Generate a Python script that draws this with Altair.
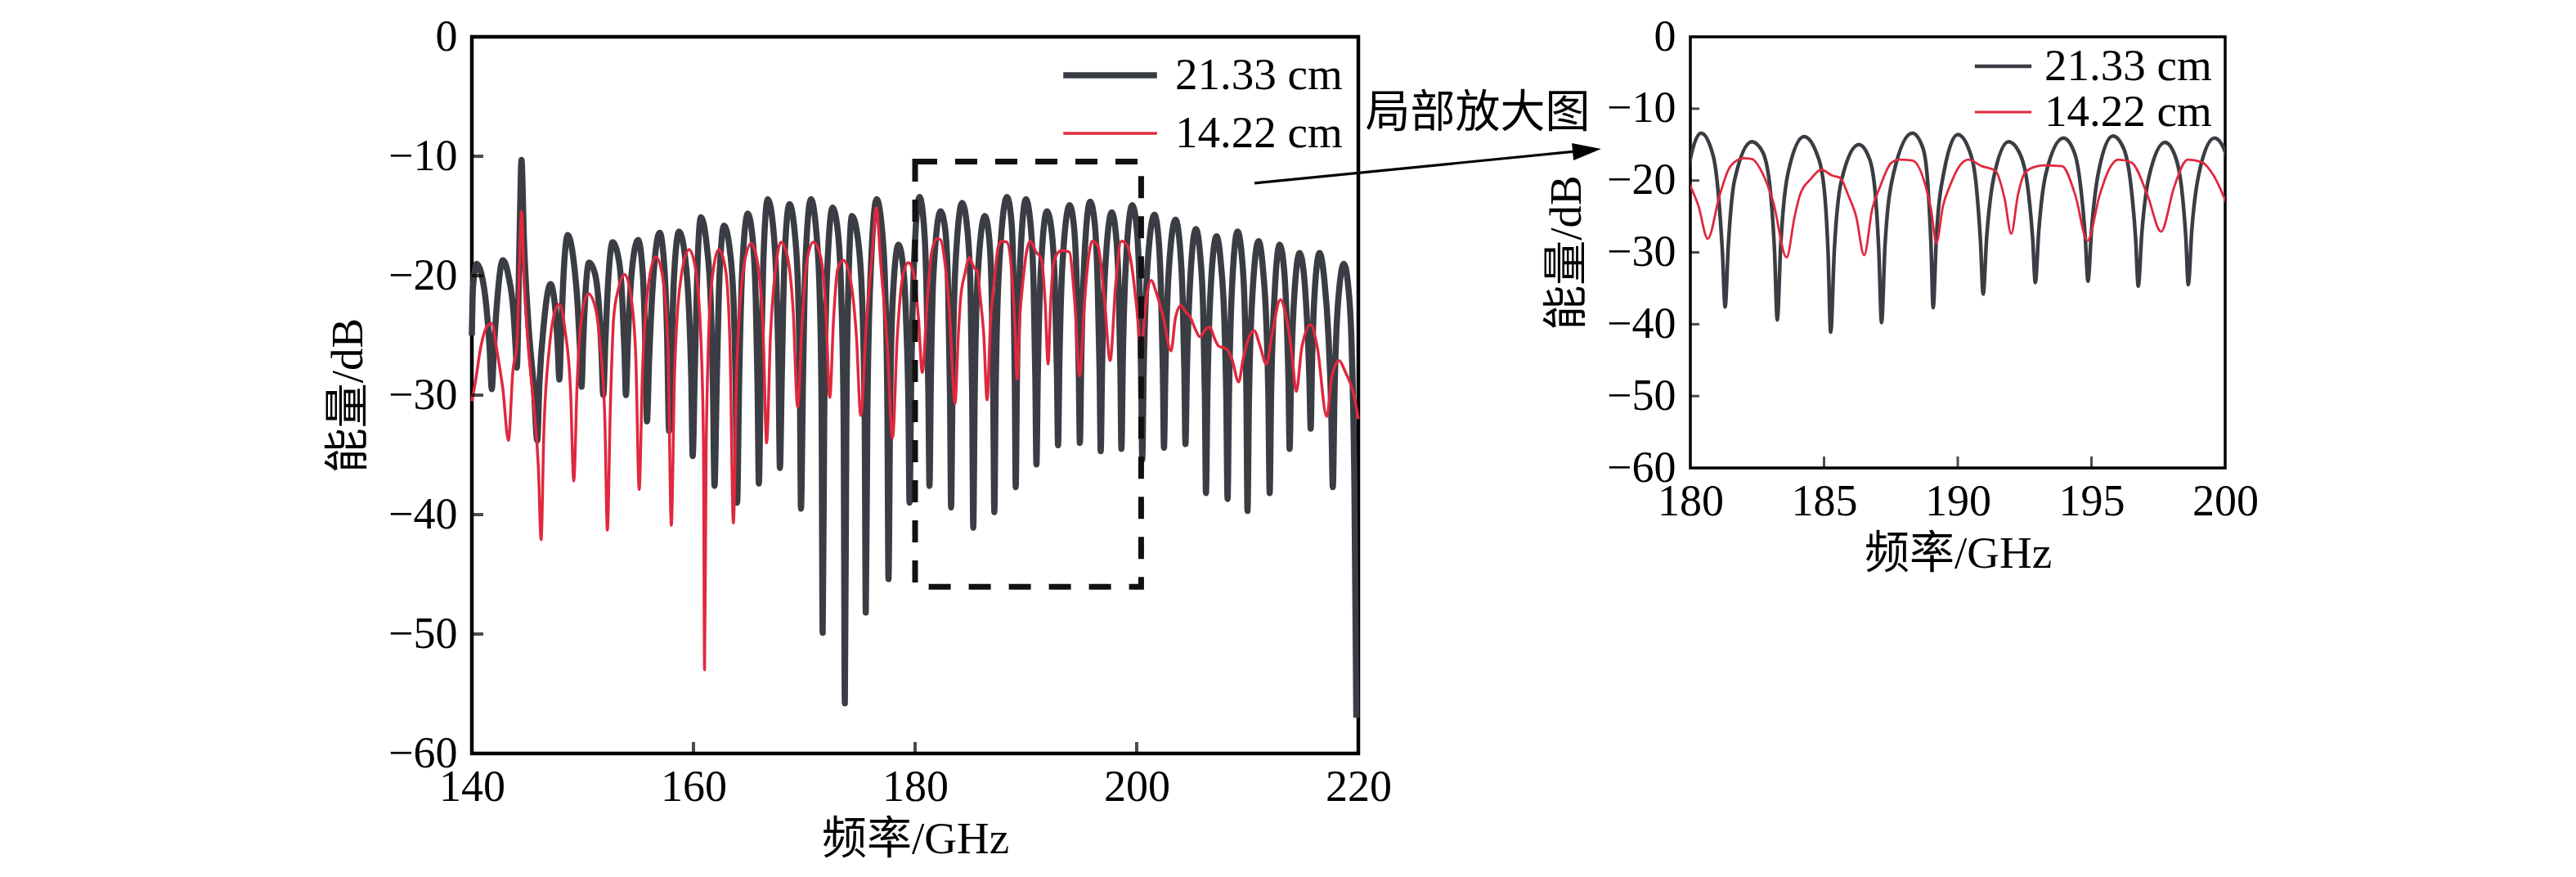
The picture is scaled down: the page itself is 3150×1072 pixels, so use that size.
import altair as alt
import pandas as pd

SERIES = ["21.33 cm", "14.22 cm"]
COLORS = ["#3a3d43", "#e0283e"]
X_TICKS_MAIN = [140, 160, 180, 200, 220]
X_TICKS_INSET = [180, 185, 190, 195, 200]
Y_TICKS = [0, -10, -20, -30, -40, -50, -60]
INNER_X_MAIN = [160, 180, 200]
INNER_X_INSET = [185, 190, 195]
INNER_Y = [-10, -20, -30, -40, -50]
ZOOM_BOX = [180.0, 200.4, -10.45, -46.05]
ARROW = [210.63, -12.25, 240.63, -9.50]
NOTE = [230.77, -6.37, "局部放大图"]

BLACK = [
(140.00,-25.0),(140.10,-21.0),(140.45,-19.0),(140.85,-19.8),(141.30,-22.5),(141.60,-26.0),
(141.80,-29.5),(142.00,-26.0),(142.25,-22.5),(142.80,-18.7),(143.30,-20.0),(143.75,-23.0),(143.95,-26.0),
(144.06,-27.7),(144.30,-17.0),(144.48,-10.3),(144.70,-17.0),(145.10,-24.0),(145.60,-29.5),
(145.90,-33.8),(146.10,-29.0),(146.50,-24.0),(147.10,-20.7),(147.55,-23.0),(147.75,-26.0),
(147.90,-28.7),(148.05,-25.0),(148.30,-19.5),(148.66,-16.6),(149.15,-18.5),(149.55,-22.5),(149.75,-26.0),
(149.90,-29.3),(150.05,-25.5),(150.25,-21.5),(150.58,-18.9),(151.10,-19.8),(151.50,-23.0),(151.70,-26.5),
(151.86,-30.0),(152.05,-25.5),(152.30,-20.5),(152.70,-17.2),(153.30,-18.9),(153.60,-22.5),(153.78,-26.5),
(153.90,-30.0),(154.10,-25.0),(154.45,-19.5),(155.00,-17.0),(155.40,-19.5),(155.62,-24.5),
(155.80,-32.2),(156.00,-27.0),(156.35,-20.5),(156.95,-16.4),(157.35,-19.0),(157.62,-25.0),
(157.80,-33.0),(158.00,-27.0),(158.25,-20.0),(158.70,-16.3),(159.25,-18.5),(159.60,-23.0),(159.80,-28.5),
(159.93,-35.1),(160.12,-28.0),(160.35,-19.5),(160.67,-15.1),(161.20,-17.5),(161.55,-22.0),(161.75,-29.0),
(161.90,-37.6),(162.10,-29.0),(162.35,-20.0),(162.76,-15.8),(163.30,-18.0),(163.65,-23.0),(163.82,-30.0),
(163.94,-39.0),(164.12,-29.0),(164.40,-19.5),(164.90,-14.8),(165.35,-17.0),(165.62,-22.0),(165.78,-29.0),
(165.90,-37.4),(166.08,-28.0),(166.30,-19.0),(166.70,-13.6),(167.20,-16.0),(167.50,-21.0),(167.68,-28.0),
(167.80,-36.1),(167.98,-28.0),(168.20,-19.0),(168.66,-14.0),(169.15,-16.5),(169.45,-21.5),(169.60,-29.0),
(169.70,-39.5),(169.88,-29.0),(170.10,-19.0),(170.60,-13.6),(171.10,-16.5),(171.40,-22.0),(171.56,-31.0),
(171.66,-49.9),(171.80,-32.0),(172.05,-20.0),(172.55,-14.3),(173.05,-16.5),(173.35,-22.0),(173.55,-32.0),
(173.66,-55.8),(173.80,-32.0),(173.98,-21.0),(174.30,-15.0),(174.85,-17.0),(175.22,-22.0),(175.45,-32.0),
(175.55,-48.2),(175.70,-31.0),(175.98,-20.0),(176.53,-13.6),(177.00,-16.0),(177.30,-21.0),(177.50,-31.0),
(177.60,-45.4),(177.75,-31.0),(177.98,-22.0),(178.50,-17.4),(178.95,-19.5),(179.20,-24.0),(179.40,-31.0),
(179.50,-39.0),(179.65,-29.0),(179.90,-19.0),(180.40,-13.4),(180.85,-16.5),(181.05,-22.0),(181.20,-30.0),
(181.30,-37.6),(181.42,-29.0),(181.65,-20.0),(182.30,-14.6),(182.70,-16.0),(182.98,-21.0),(183.15,-30.0),
(183.25,-39.4),(183.38,-29.0),(183.65,-19.0),(184.25,-13.9),(184.70,-16.0),(185.00,-21.0),(185.15,-30.0),
(185.25,-41.1),(185.38,-30.0),(185.65,-20.0),(186.30,-15.0),(186.70,-17.0),(186.92,-22.0),(187.05,-30.0),
(187.15,-39.8),(187.28,-29.0),(187.60,-19.0),(188.30,-13.4),(188.70,-15.5),(188.88,-20.5),(189.00,-29.0),
(189.08,-37.7),(189.20,-28.0),(189.50,-18.5),(190.00,-13.6),(190.45,-16.0),(190.70,-21.0),(190.85,-28.5),
(190.95,-35.8),(191.08,-28.0),(191.35,-19.5),(191.90,-14.6),(192.35,-16.5),(192.62,-21.0),(192.80,-28.0),
(192.90,-34.2),(193.03,-27.0),(193.30,-19.0),(193.95,-14.1),(194.35,-16.0),(194.60,-21.0),(194.77,-28.0),
(194.87,-34.0),(195.00,-27.0),(195.28,-18.5),(195.80,-13.8),(196.20,-15.5),(196.47,-20.5),(196.65,-28.0),
(196.75,-34.7),(196.88,-27.5),(197.15,-19.5),(197.75,-14.7),(198.12,-16.5),(198.37,-21.0),(198.53,-28.0),
(198.62,-34.5),(198.75,-27.0),(199.05,-18.5),(199.60,-14.1),(200.00,-16.0),(200.25,-21.0),(200.40,-28.5),
(200.50,-35.4),(200.63,-28.0),(200.95,-19.5),(201.60,-14.9),(201.98,-17.0),(202.20,-21.5),(202.36,-28.0),
(202.46,-34.4),(202.60,-27.5),(202.90,-19.5),(203.50,-15.3),(203.90,-17.5),(204.15,-22.0),(204.30,-28.0),
(204.40,-34.1),(204.53,-28.0),(204.82,-20.5),(205.34,-16.1),(205.75,-18.5),(206.00,-23.0),(206.15,-30.0),
(206.25,-38.2),(206.38,-30.0),(206.68,-21.0),(207.20,-16.7),(207.60,-19.0),(207.90,-23.5),(208.08,-30.0),
(208.20,-38.7),(208.33,-30.0),(208.60,-21.0),(209.10,-16.3),(209.50,-18.5),(209.75,-23.0),(209.90,-30.0),
(210.00,-39.7),(210.13,-30.5),(210.45,-21.5),(211.00,-17.1),(211.40,-19.5),(211.70,-24.0),(211.88,-30.0),
(212.00,-38.2),(212.13,-30.0),(212.42,-22.0),(212.90,-17.4),(213.30,-19.5),(213.55,-24.0),(213.70,-29.0),
(213.80,-34.5),(213.93,-28.5),(214.20,-22.0),(214.70,-18.1),(215.10,-20.0),(215.38,-24.0),(215.58,-28.5),
(215.70,-32.8),(215.82,-27.5),(216.05,-21.5),(216.50,-18.1),(216.95,-20.5),(217.30,-25.0),(217.55,-31.0),
(217.70,-37.7),(217.85,-30.0),(218.15,-22.5),(218.70,-19.0),(219.10,-21.0),(219.40,-26.0),(219.65,-38.0),
(219.82,-57.0),
]

RED = [
(140.00,-30.5),(140.30,-29.0),(140.80,-26.0),(141.40,-24.2),(141.80,-24.0),(142.30,-26.5),(142.80,-29.5),
(143.30,-33.8),(143.70,-28.0),(144.06,-25.8),(144.30,-19.0),(144.48,-14.6),(144.70,-20.0),(145.10,-26.0),(145.60,-31.0),(146.00,-36.0),
(146.25,-42.1),(146.50,-33.0),(147.00,-26.0),(147.50,-23.0),(147.90,-22.4),(148.40,-24.5),(148.90,-29.5),
(149.20,-37.2),(149.50,-29.0),(149.90,-23.5),(150.50,-21.5),(151.10,-22.5),(151.60,-26.0),(152.00,-32.0),
(152.23,-41.3),(152.50,-31.0),(152.80,-23.5),(153.20,-21.2),(153.80,-19.9),(154.40,-22.0),(154.80,-27.0),
(155.10,-37.9),(155.40,-28.0),(155.90,-21.0),(156.60,-18.4),(157.20,-20.0),(157.70,-26.0),
(158.00,-40.9),(158.30,-28.0),(158.90,-20.0),(159.60,-17.8),(160.20,-19.5),(160.70,-26.0),(160.90,-34.0),
(161.00,-53.0),(161.15,-34.0),(161.60,-21.0),(162.30,-17.8),(162.90,-19.5),(163.30,-26.0),
(163.60,-40.7),(163.90,-28.0),(164.50,-19.5),(165.20,-17.3),(165.80,-19.0),(166.30,-25.0),
(166.60,-34.0),(166.95,-25.0),(167.40,-19.5),(167.90,-17.2),(168.50,-18.5),(169.00,-23.0),
(169.40,-31.0),(169.80,-24.0),(170.20,-19.0),(170.80,-17.2),(171.50,-18.5),(171.95,-23.0),
(172.30,-30.2),(172.65,-23.5),(173.00,-19.5),(173.50,-18.7),(174.10,-20.0),(174.70,-25.0),
(175.10,-31.7),(175.60,-24.0),(176.10,-18.5),(176.50,-14.3),(176.90,-19.0),(177.50,-26.0),
(177.96,-33.6),(178.40,-25.0),(178.90,-20.0),(179.40,-18.9),(179.90,-20.0),(180.30,-23.5),
(180.65,-28.1),(181.10,-22.0),(181.50,-18.0),(182.00,-16.9),(182.30,-17.0),(182.70,-19.0),(183.10,-23.0),
(183.60,-30.7),(183.90,-25.0),(184.10,-22.0),(184.50,-19.8),(184.90,-18.5),(185.30,-19.3),(185.60,-19.6),(185.90,-22.0),(186.20,-25.0),
(186.50,-30.4),(186.80,-24.0),(187.10,-20.8),(187.50,-17.6),(187.80,-17.1),(188.30,-17.2),(188.80,-20.8),(189.00,-24.0),
(189.20,-28.7),(189.45,-23.5),(189.70,-20.8),(190.10,-17.8),(190.40,-17.1),(190.90,-18.0),(191.40,-18.6),(191.75,-22.5),
(192.00,-27.4),(192.25,-22.0),(192.50,-19.0),(192.80,-18.2),(193.20,-17.9),(193.90,-18.0),(194.40,-22.1),
(194.85,-28.4),(195.30,-22.1),(195.65,-18.5),(196.00,-17.1),(196.50,-17.5),(197.10,-22.1),
(197.60,-27.1),(198.10,-20.8),(198.60,-17.1),(199.10,-17.4),(199.60,-19.5),(200.00,-22.7),
(200.40,-26.4),(200.80,-22.5),(201.30,-20.4),(201.80,-21.5),(202.40,-23.5),
(203.10,-26.3),(203.50,-23.5),(204.00,-22.5),(204.40,-23.0),(204.85,-23.5),(205.30,-24.5),(205.70,-25.1),(206.20,-24.5),(206.60,-24.3),(207.00,-25.2),(207.40,-25.9),(208.05,-26.1),(208.60,-27.0),
(209.20,-28.9),(209.60,-27.0),(210.00,-25.5),(210.60,-24.6),(211.10,-25.8),(211.70,-27.4),(212.20,-25.0),(212.97,-22.0),(213.50,-23.5),(214.00,-26.5),
(214.40,-29.7),(214.90,-26.0),(215.70,-24.1),(216.30,-26.0),
(217.15,-31.8),(217.60,-28.5),(218.26,-27.1),(218.80,-28.0),(219.70,-30.4),(220.00,-32.0),
]

df = pd.DataFrame(
    [(f, d, SERIES[0]) for f, d in BLACK] + [(f, d, SERIES[1]) for f, d in RED],
    columns=["freq", "db", "series"],
)

SERIF = "Liberation Serif, Noto Sans CJK SC"
W, H = 1084, 876
IW, IH = 654, 527


def axes(xdom, xvals, lab_pad_x, lab_pad_y, tpad_x, tpad_y):
    ax = alt.Axis(values=xvals, title="频率/GHz", ticks=False, domain=False, grid=False,
                  labelFlush=False, labelFontSize=54, labelFont=SERIF, labelColor="black",
                  labelPadding=lab_pad_x, titleFontSize=55, titleFont=SERIF,
                  titleFontWeight="normal", titleColor="black", titlePadding=tpad_x, format="d")
    ay = alt.Axis(values=Y_TICKS, title="能量/dB", ticks=False, domain=False, grid=False,
                  labelFontSize=54, labelFont=SERIF, labelColor="black", labelPadding=lab_pad_y,
                  titleFontSize=55, titleFont=SERIF, titleFontWeight="normal",
                  titleColor="black", titlePadding=tpad_y, format="d")
    xs = alt.Scale(domain=xdom, nice=False, zero=False)
    ys = alt.Scale(domain=[-60, 0], nice=False, zero=False)
    return xs, ys, ax, ay


def panel(xdom, xvals, inner_x, widths, legend, w, h, tick_len_x, tick_len_y, tick_w, clip):
    xs, ys, ax, ay = axes(xdom, xvals, 14, 18, 10, 20)
    data = df[(df.freq >= xdom[0] - 0.5) & (df.freq <= xdom[1] + 0.5)]
    enc_color = alt.Color("series:N", scale=alt.Scale(domain=SERIES, range=COLORS), legend=legend)
    enc_sw = alt.StrokeWidth("series:N", scale=alt.Scale(domain=SERIES, range=widths), legend=legend)
    layers = []
    for s in SERIES:
        layers.append(
            alt.Chart(data[data.series == s]).mark_line(interpolate="monotone", clip=clip, strokeJoin="round")
            .encode(x=alt.X("freq:Q", scale=xs, axis=ax), y=alt.Y("db:Q", scale=ys, axis=ay),
                    color=enc_color, strokeWidth=enc_sw, order=alt.Order("freq:Q"))
        )
    tx = alt.Chart(pd.DataFrame({"freq": inner_x})).mark_tick(
        color="black", thickness=tick_w, size=tick_len_x
    ).encode(x=alt.X("freq:Q", scale=xs), y=alt.value(h - tick_len_x / 2))
    ty = alt.Chart(pd.DataFrame({"db": INNER_Y})).mark_tick(
        color="black", thickness=tick_w, size=tick_len_y
    ).encode(y=alt.Y("db:Q", scale=ys), x=alt.value(tick_len_y / 2))
    layers += [tx, ty]
    return layers, xs, ys


main_legend = alt.Legend(orient="none", legendX=753, legendY=19.5, title=None,
                         symbolType="M-4,0H4", symbolSize=820, labelFontSize=55,
                         labelFont="Liberation Serif", labelColor="black", labelOffset=52,
                         rowPadding=15, padding=0, labelLimit=600)
inset_legend = alt.Legend(orient="none", legendX=355, legendY=8.5, title=None,
                          symbolType="M-4,0H4", symbolSize=300, labelFontSize=55,
                          labelFont="Liberation Serif", labelColor="black", labelOffset=23,
                          rowPadding=-3, padding=0, labelLimit=600)

main_layers, mxs, mys = panel([140, 220], X_TICKS_MAIN, INNER_X_MAIN, [7.5, 3.5], main_legend,
                              W, H, 14, 14, 4, False)

box = alt.Chart(pd.DataFrame({"freq": [ZOOM_BOX[0]], "freq_end": [ZOOM_BOX[1]],
                              "db": [ZOOM_BOX[2]], "db_end": [ZOOM_BOX[3]]})).mark_rect(
    fillOpacity=0, stroke="#111111", strokeWidth=7, strokeDash=[27, 22]
).encode(x=alt.X("freq:Q", scale=mxs), x2="freq_end:Q", y=alt.Y("db:Q", scale=mys), y2="db_end:Q")

arrow_line = alt.Chart(pd.DataFrame({"freq": [ARROW[0]], "freq_end": [ARROW[2]],
                                     "db": [ARROW[1]], "db_end": [ARROW[3]]})).mark_rule(
    color="black", strokeWidth=3.2, clip=False
).encode(x=alt.X("freq:Q", scale=mxs), x2="freq_end:Q", y=alt.Y("db:Q", scale=mys), y2="db_end:Q")

arrow_head = alt.Chart(pd.DataFrame({"freq": [ARROW[2]], "db": [ARROW[3]]})).mark_point(
    shape="M-0.6,1L0,-1L0.6,1Z", size=1225, filled=True, color="black", opacity=1,
    angle=84.3, clip=False
).encode(x=alt.X("freq:Q", scale=mxs), y=alt.Y("db:Q", scale=mys))

note = alt.Chart(pd.DataFrame({"freq": [NOTE[0]], "db": [NOTE[1]], "t": [NOTE[2]]})).mark_text(
    font="Noto Sans CJK SC", fontSize=55, color="black", align="center", baseline="middle", clip=False
).encode(x=alt.X("freq:Q", scale=mxs), y=alt.Y("db:Q", scale=mys), text="t:N")

main = alt.layer(*main_layers, box, arrow_line, arrow_head, note).properties(
    width=W, height=H, view=alt.ViewBackground(stroke="black", strokeWidth=4.5)
)

inset_layers, ixs, iys = panel([180, 200], X_TICKS_INSET, INNER_X_INSET, [4.5, 2.8], inset_legend,
                               IW, IH, 14, 11, 3, True)
inset = alt.layer(*inset_layers).properties(
    width=IW, height=IH, view=alt.ViewBackground(stroke="black", strokeWidth=3.5)
)

chart = alt.hconcat(main, inset, spacing=406, bounds="flush").resolve_scale(
    x="independent", y="independent", color="independent", strokeWidth="independent"
).resolve_legend(color="independent", strokeWidth="independent").properties(
    padding={"left": 388, "top": 7, "right": 5, "bottom": 5}, background="white"
)

chart.save("out.html", embed_options={"renderer": "svg", "actions": False})
